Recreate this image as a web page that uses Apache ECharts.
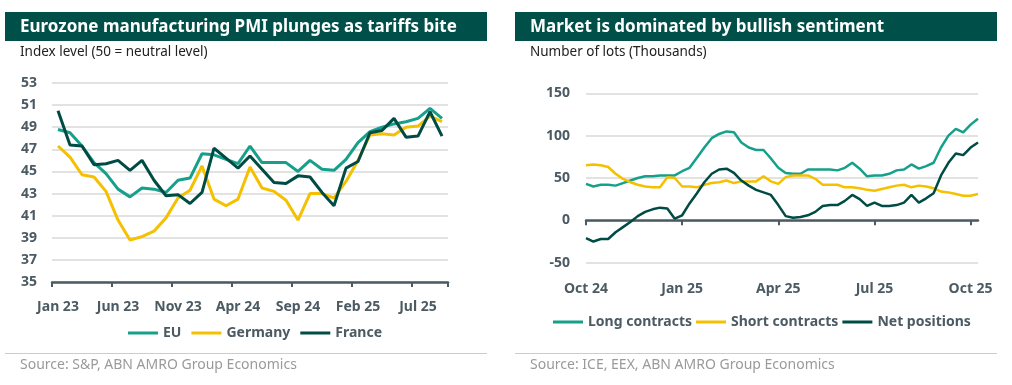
<!DOCTYPE html>
<html>
<head>
<meta charset="utf-8">
<script src="https://cdn.jsdelivr.net/npm/echarts@6/dist/echarts.min.js"></script>
<style>
html,body{margin:0;padding:0;background:#ffffff;}
#chart{width:1012px;height:385px;}
</style>
</head>
<body>
<div id="chart"></div>
<script>
// ---------- Left chart data: Eurozone manufacturing PMI ----------
const pmiMonths = ['Jan 23','Feb 23','Mar 23','Apr 23','May 23','Jun 23','Jul 23','Aug 23','Sep 23','Oct 23','Nov 23','Dec 23',
  'Jan 24','Feb 24','Mar 24','Apr 24','May 24','Jun 24','Jul 24','Aug 24','Sep 24','Oct 24','Nov 24','Dec 24',
  'Jan 25','Feb 25','Mar 25','Apr 25','May 25','Jun 25','Jul 25','Aug 25','Sep 25'];
const euPMI      = [48.8,48.5,47.3,45.8,44.8,43.4,42.7,43.5,43.4,43.1,44.2,44.4,46.6,46.5,46.1,45.7,47.3,45.8,45.8,45.8,45.0,46.0,45.2,45.1,46.1,47.6,48.6,49.0,49.3,49.5,49.8,50.7,49.8];
const germanyPMI = [47.3,46.3,44.7,44.5,43.2,40.6,38.8,39.1,39.6,40.8,42.6,43.3,45.5,42.5,41.9,42.5,45.4,43.5,43.2,42.4,40.6,43.0,43.0,42.6,44.1,46.0,48.3,48.4,48.3,49.0,49.1,50.0,49.5];
const francePMI  = [50.5,47.4,47.3,45.6,45.7,46.0,45.1,46.0,44.2,42.8,42.9,42.1,43.1,47.1,46.2,45.3,46.4,45.2,44.0,43.9,44.6,44.5,43.1,41.9,45.3,45.9,48.5,48.7,49.8,48.1,48.2,50.4,48.2];
const pmiYTicks = {min:35, max:53, step:2};

// ---------- Right chart data: positions (thousands of lots), weekly ----------
const weeks = ['2024-10-01','2024-10-08','2024-10-15','2024-10-22','2024-10-29','2024-11-05','2024-11-12','2024-11-19','2024-11-26',
  '2024-12-03','2024-12-10','2024-12-17','2024-12-24','2024-12-31','2025-01-07','2025-01-14','2025-01-21','2025-01-28',
  '2025-02-04','2025-02-11','2025-02-18','2025-02-25','2025-03-04','2025-03-11','2025-03-18','2025-03-25','2025-04-01',
  '2025-04-08','2025-04-15','2025-04-22','2025-04-29','2025-05-06','2025-05-13','2025-05-20','2025-05-27','2025-06-03',
  '2025-06-10','2025-06-17','2025-06-24','2025-07-01','2025-07-08','2025-07-15','2025-07-22','2025-07-29','2025-08-05',
  '2025-08-12','2025-08-19','2025-08-26','2025-09-02','2025-09-09','2025-09-16','2025-09-23','2025-09-30','2025-10-07'];
const longContracts  = [43,40,42,42,41,44,47,50,52,52,53,53,53,58,62,74,86,97,102,105,104,92,86,83,83,73,62,56,55,55,60,60,60,60,59,62,68,61,52,53,53,55,59,60,66,61,64,68,86,100,108,104,113,120];
const shortContracts = [65,66,65,63,55,49,45,42,40,39,39,51,50,40,40,39,42,44,45,47,44,46,46,46,52,46,43,51,53,53,53,49,42,42,42,39,39,38,36,35,37,39,41,42,39,41,40,38,34,33,31,29,29,31];
const netPositions   = [-21,-25,-22,-22,-14,-8,-2,5,10,13,15,14,2,6,20,32,45,55,60,61,56,47,41,36,33,30,18,5,3,4,6,10,17,18,18,23,30,25,17,21,17,17,18,21,30,21,26,32,53,68,79,77,86,92];
const weekTickIdx    = [0,13,26,39,52];
const weekTickLabels = ['Oct 24','Jan 25','Apr 25','Jul 25','Oct 25'];
const posYTicks = {min:-50, max:150, step:50};

// ---------- Styles ----------
const FONT = "'Noto Sans', sans-serif";
const C_TEAL = '#16a08b', C_YELLOW = '#f5c000', C_DARK = '#004c45';
const C_BAND = '#004f48', C_AXIS = '#4b5a63', C_GRID = '#d9d9d9';

const axisLabelStyle = {color: C_AXIS, fontFamily: FONT, fontWeight: 'bold', fontSize: 14};
const legendText = {color: C_AXIS, fontFamily: FONT, fontWeight: 'bold', fontSize: 14};

const chart = echarts.init(document.getElementById('chart'), null, {renderer: 'canvas'});

function lineSeries(name, data, color, xi, yi, w) {
  return {name, type: 'line', data, xAxisIndex: xi, yAxisIndex: yi, symbol: 'none', showSymbol: false,
    lineStyle: {color, width: w}, itemStyle: {color}, z: 3};
}

const titleFont = "bold 17px 'Noto Sans', sans-serif";
const subFont = "13.5px 'Noto Sans', sans-serif";
const srcFont = "14px 'Noto Sans', sans-serif";

const option = {
  animation: false,
  backgroundColor: '#ffffff',
  textStyle: {fontFamily: FONT},
  graphic: [
    {type: 'rect', shape: {x: 5, y: 12, width: 482, height: 29}, style: {fill: C_BAND}},
    {type: 'text', x: 20, y: 27, style: {text: 'Eurozone manufacturing PMI plunges as tariffs bite', fill: '#ffffff',
      font: titleFont, verticalAlign: 'middle'}},
    {type: 'text', x: 20, y: 52, style: {text: 'Index level (50 = neutral level)', fill: '#222222',
      font: subFont, verticalAlign: 'middle'}},
    {type: 'rect', shape: {x: 5, y: 353, width: 482, height: 1}, style: {fill: '#cccccc'}},
    {type: 'text', x: 20, y: 365, style: {text: 'Source: S&P, ABN AMRO Group Economics', fill: '#9a9a9a',
      font: srcFont, verticalAlign: 'middle'}},

    {type: 'rect', shape: {x: 515, y: 12, width: 482, height: 29}, style: {fill: C_BAND}},
    {type: 'text', x: 530, y: 27, style: {text: 'Market is dominated by bullish sentiment', fill: '#ffffff',
      font: titleFont, verticalAlign: 'middle'}},
    {type: 'text', x: 530, y: 52, style: {text: 'Number of lots (Thousands)', fill: '#222222',
      font: subFont, verticalAlign: 'middle'}},
    {type: 'rect', shape: {x: 515, y: 353, width: 482, height: 1}, style: {fill: '#cccccc'}},
    {type: 'text', x: 530, y: 365, style: {text: 'Source: ICE, EEX, ABN AMRO Group Economics', fill: '#9a9a9a',
      font: srcFont, verticalAlign: 'middle'}}
  ],
  grid: [
    {left: 52, top: 83, width: 396, height: 199},
    {left: 586, top: 93.3, width: 392, height: 169.4}
  ],
  legend: [
    {data: ['EU', 'Germany', 'France'], left: 128, top: 326, padding: 0, icon: 'rect', itemWidth: 30, itemHeight: 3,
      itemGap: 10, textStyle: legendText, selectedMode: false},
    {data: ['Long contracts', 'Short contracts', 'Net positions'], left: 553, top: 315, padding: 0, icon: 'rect',
      itemWidth: 30, itemHeight: 3, itemGap: 4, textStyle: legendText, selectedMode: false}
  ],
  xAxis: [
    {type: 'category', gridIndex: 0, data: pmiMonths, boundaryGap: true,
      axisLine: {show: true, onZero: false, lineStyle: {color: C_AXIS, width: 2.5}},
      axisTick: {show: true, interval: 4, length: 5, lineStyle: {color: C_AXIS, width: 2}},
      axisLabel: Object.assign({interval: 4, margin: 18}, axisLabelStyle),
      splitLine: {show: false}},
    {type: 'category', gridIndex: 1, data: weeks, boundaryGap: false,
      axisLine: {show: true, onZero: true, lineStyle: {color: C_AXIS, width: 2.5}},
      axisTick: {show: true, length: 5, interval: (i) => weekTickIdx.indexOf(i) >= 0, lineStyle: {color: C_AXIS, width: 2}},
      axisLabel: {show: false}, splitLine: {show: false}},
    {type: 'category', gridIndex: 1, data: weeks, boundaryGap: false, position: 'bottom',
      axisLine: {show: false, onZero: false}, axisTick: {show: false},
      axisLabel: Object.assign({margin: 19, interval: (i) => weekTickIdx.indexOf(i) >= 0,
        formatter: (v, i) => { const k = weekTickIdx.indexOf(i); return k >= 0 ? weekTickLabels[k] : ''; }}, axisLabelStyle),
      splitLine: {show: false}}
  ],
  yAxis: [
    {type: 'value', gridIndex: 0, min: pmiYTicks.min, max: pmiYTicks.max, interval: pmiYTicks.step,
      axisLine: {show: false}, axisTick: {show: false},
      axisLabel: Object.assign({margin: 15}, axisLabelStyle),
      splitLine: {show: true, lineStyle: {color: C_GRID, width: 1.5}}},
    {type: 'value', gridIndex: 1, min: posYTicks.min, max: posYTicks.max, interval: posYTicks.step,
      axisLine: {show: false}, axisTick: {show: false},
      axisLabel: Object.assign({margin: 16}, axisLabelStyle),
      splitLine: {show: true, lineStyle: {color: C_GRID, width: 1.5}}}
  ],
  series: [
    lineSeries('EU', euPMI, C_TEAL, 0, 0, 3),
    lineSeries('Germany', germanyPMI, C_YELLOW, 0, 0, 3),
    lineSeries('France', francePMI, C_DARK, 0, 0, 3),
    lineSeries('Long contracts', longContracts, C_TEAL, 1, 1, 2.5),
    lineSeries('Short contracts', shortContracts, C_YELLOW, 1, 1, 2.5),
    lineSeries('Net positions', netPositions, C_DARK, 1, 1, 2.5)
  ]
};
chart.setOption(option);
</script>
</body>
</html>
